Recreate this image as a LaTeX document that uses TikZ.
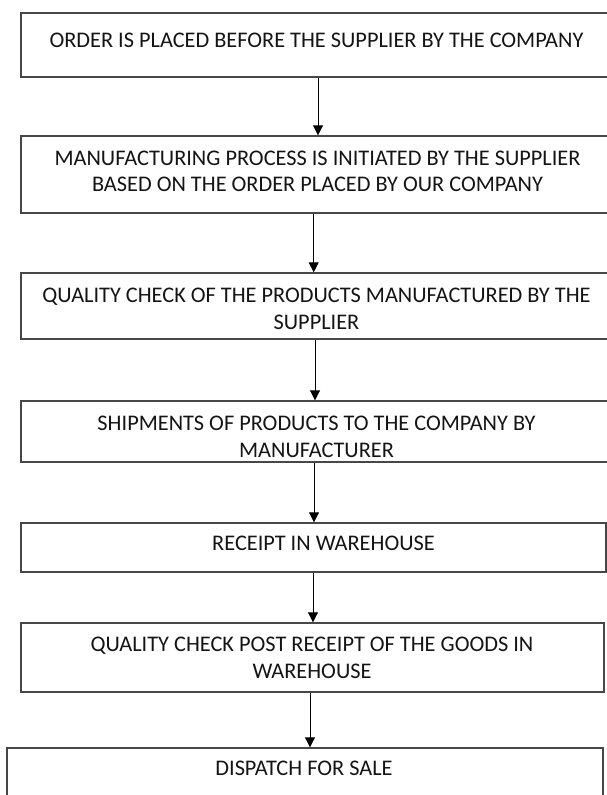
\documentclass[tikz,border=0pt]{standalone}
\usepackage{fontspec}
\setmainfont{Carlito}
\usetikzlibrary{arrows.meta}
\begin{document}
\begin{tikzpicture}[x=1bp,y=-1bp,
  box/.style={draw=black!72, line width=1.4bp, rectangle, inner sep=0pt},
  lbl/.style={inner sep=0pt, align=center, text=black!92, font=\fontsize{22.4}{26.5}\selectfont},
  arr/.style={draw=black, line width=0.9bp, -{Triangle[width=10bp,length=10bp]}}]
\useasboundingbox (0,0) rectangle (607,795);
% boxes
\node[box, minimum width=591bp, minimum height=64bp] (b1) at (316.5,45) {};
\node[box, minimum width=591bp, minimum height=77bp] (b2) at (316.5,174.5) {};
\node[box, minimum width=591bp, minimum height=66bp] (b3) at (316.5,306) {};
\node[box, minimum width=591bp, minimum height=61bp] (b4) at (316.5,431.5) {};
\node[box, minimum width=585bp, minimum height=49bp] (b5) at (313.5,547.5) {};
\node[box, minimum width=583bp, minimum height=69bp] (b6) at (312.5,657.5) {};
\node[box, minimum width=596bp, minimum height=82bp] (b7) at (305,789) {};
% texts
\node[lbl] (t1) at (316.5,40) {ORDER IS PLACED BEFORE THE SUPPLIER BY THE COMPANY};
\node[lbl] (t2) at (317.5,171.5) {MANUFACTURING PROCESS IS INITIATED BY THE SUPPLIER\\BASED ON THE ORDER PLACED BY OUR COMPANY};
\node[lbl] (t3) at (316.5,309) {QUALITY CHECK OF THE PRODUCTS MANUFACTURED BY THE\\SUPPLIER};
\node[lbl] (t4) at (316.5,437) {SHIPMENTS OF PRODUCTS TO THE COMPANY BY\\MANUFACTURER};
\node[lbl] (t5) at (323.5,543) {RECEIPT IN WAREHOUSE};
\node[lbl] (t6) at (312,658) {QUALITY CHECK POST RECEIPT OF THE GOODS IN\\WAREHOUSE};
\node[lbl] (t7) at (304,768) {DISPATCH FOR SALE};
% arrow columns
\coordinate (x1) at (318,0);
\coordinate (x2) at (313.7,0);
\coordinate (x3) at (315,0);
\coordinate (x4) at (314,0);
\coordinate (x5) at (313,0);
\coordinate (x6) at (310,0);
\draw[arr] (b1.south -| x1) -- (b2.north -| x1);
\draw[arr] (b2.south -| x2) -- (b3.north -| x2);
\draw[arr] (b3.south -| x3) -- (b4.north -| x3);
\draw[arr] (b4.south -| x4) -- (b5.north -| x4);
\draw[arr] (b5.south -| x5) -- (b6.north -| x5);
\draw[arr] (b6.south -| x6) -- (b7.north -| x6);
\end{tikzpicture}
\end{document}
